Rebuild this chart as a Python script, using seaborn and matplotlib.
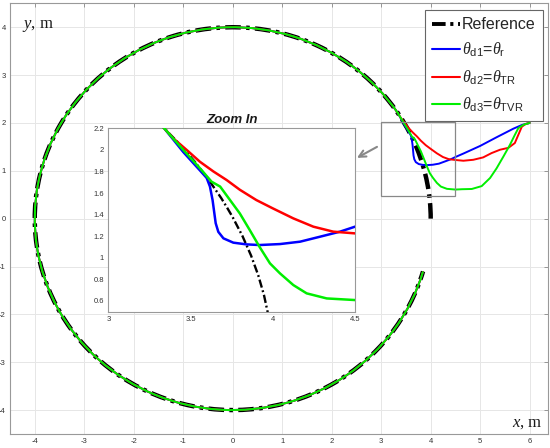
import matplotlib
matplotlib.use('Agg')
import numpy as np
import pandas as pd
import matplotlib.pyplot as plt
import seaborn as sns
from matplotlib.patches import Arc, Rectangle
from matplotlib.lines import Line2D

sns.set_theme(style='white')
plt.rcParams['font.family'] = ['Liberation Sans', 'DejaVu Sans']
plt.rcParams['mathtext.fontset'] = 'custom'
plt.rcParams['mathtext.rm'] = 'Liberation Sans'
plt.rcParams['mathtext.it'] = 'Liberation Serif:italic'

# ---------------- data ----------------
ref_radius = 4.0
ref_theta = (0.0, 344.0)      # reference circle, degrees (CCW)
track_theta = (33.4, 344.0)   # part where the tracks follow the circle

blue_x = [6.0, 5.85, 5.67, 5.33, 5.0, 4.66, 4.5, 4.409, 4.287, 4.166, 4.044, 3.92, 3.84, 3.76,
          3.70, 3.669, 3.653, 3.645, 3.634, 3.618, 3.598, 3.557, 3.456, 3.339]
blue_y = [2.0, 1.96, 1.88, 1.70, 1.52, 1.36, 1.288, 1.242, 1.195, 1.149, 1.127, 1.118, 1.124, 1.14,
          1.18, 1.24, 1.32, 1.41, 1.535, 1.66, 1.74, 1.81, 1.98, 2.202]

red_x = [6.0, 5.92, 5.84, 5.77, 5.70, 5.57, 5.40, 5.23, 5.06, 4.86, 4.66, 4.5, 4.368, 4.247,
         4.125, 4.0, 3.90, 3.80, 3.72, 3.639, 3.557, 3.476, 3.395, 3.339]
red_y = [2.0, 1.98, 1.92, 1.75, 1.58, 1.48, 1.44, 1.37, 1.28, 1.23, 1.21, 1.226, 1.242, 1.288,
         1.365, 1.458, 1.535, 1.63, 1.72, 1.80, 1.89, 2.0, 2.107, 2.202]

green_x = [6.0, 5.87, 5.77, 5.70, 5.60, 5.47, 5.33, 5.20, 5.03, 4.83, 4.63, 4.5, 4.328, 4.206,
           4.125, 4.044, 3.983, 3.92, 3.86, 3.80, 3.74, 3.68, 3.628, 3.557, 3.456, 3.339]
green_y = [2.0, 1.96, 1.89, 1.75, 1.54, 1.30, 1.05, 0.85, 0.68, 0.62, 0.615, 0.608, 0.623, 0.67,
           0.747, 0.855, 0.948, 1.10, 1.257, 1.41, 1.535, 1.66, 1.705, 1.83, 2.0, 2.202]

series_labels = ['Reference',
                 r'$\theta_{\mathrm{d1}}$=$\theta_{\mathrm{r}}$',
                 r'$\theta_{\mathrm{d2}}$=$\theta_{\mathrm{TR}}$',
                 r'$\theta_{\mathrm{d3}}$=$\theta_{\mathrm{TVR}}$']
colors = ['black', '#0000ff', '#ff0000', '#00ee00']

main_xticks = [-4, -3, -2, -1, 0, 1, 2, 3, 4, 5, 6]
main_yticks = [-4, -3, -2, -1, 0, 1, 2, 3, 4]
inset_xticks = [3, 3.5, 4, 4.5]
inset_yticks = [0.6, 0.8, 1, 1.2, 1.4, 1.6, 1.8, 2, 2.2]
inset_xlim = (3, 4.5)
inset_ylim = (0.5, 2.2)
zoom_box = (3.0, 0.48, 4.5, 2.02)

tracks = [(blue_x, blue_y), (red_x, red_y), (green_x, green_y)]

# ---------------- figure ----------------
fig = plt.figure(figsize=(5.5, 4.48), dpi=100)
W, H = 550, 448
ax = fig.add_axes([10 / W, (H - 434) / H, 538 / W, 430.7 / H])
ax.set_xlim(-4.5, 6.37)
ax.set_ylim(-4.5, 4.5)

ref_dash = (0, (3.5, 1.2, 0.8, 1.2))


def draw(a, lw_ref, lw_trk):
    a.add_patch(Arc((0, 0), 2 * ref_radius, 2 * ref_radius, theta1=ref_theta[0],
                    theta2=ref_theta[1], color=colors[0], lw=lw_ref, linestyle=ref_dash, zorder=2))
    for (tx, ty), c in zip(tracks, colors[1:]):
        df = pd.DataFrame({'x': tx, 'y': ty})
        sns.lineplot(data=df, x='x', y='y', sort=False, estimator=None, color=c, lw=lw_trk,
                     ax=a, zorder=3)
        a.add_patch(Arc((0, 0), 2 * ref_radius, 2 * ref_radius, theta1=track_theta[0],
                        theta2=track_theta[1], color=c, lw=lw_trk, zorder=3))


draw(ax, 3.2, 1.4)

ax.set_xticks(main_xticks)
ax.set_yticks(main_yticks)
ax.set_xticklabels([str(v) for v in main_xticks])
ax.set_yticklabels([str(v) for v in main_yticks])
ax.grid(True, color='#e6e6e6', lw=0.7)
ax.set_axisbelow(True)
ax.tick_params(direction='in', length=3, width=0.6, color='#888888', labelsize=5.5,
               labelcolor='#333333', top=True, right=True, pad=3)
for s in ax.spines.values():
    s.set_color('#999999')
    s.set_linewidth(0.8)
ax.set_xlabel('')
ax.set_ylabel('')

ax.text(-4.256, 3.977, '$y$, m', family='Liberation Serif', fontsize=12, ha='left',
        va='baseline', color='#1a1a1a')
ax.text(6.27, -4.35, '$x$, m', family='Liberation Serif', fontsize=12, ha='right',
        va='baseline', color='#1a1a1a')

# zoom rectangle + arrow
x0, y0, x1, y1 = zoom_box
ax.add_patch(Rectangle((x0, y0), x1 - x0, y1 - y0, fill=False, ec='#888888', lw=0.9, zorder=4))
ax.annotate('', xy=(2.51, 1.27), xytext=(2.915, 1.50),
            arrowprops=dict(arrowstyle='->', color='#888888', lw=1.5, shrinkA=0, shrinkB=0))

# legend
handles = [Line2D([], [], color=colors[0], lw=2.8, linestyle=ref_dash)] + \
          [Line2D([], [], color=c, lw=1.5) for c in colors[1:]]
leg = ax.legend(handles, series_labels, loc='upper right', bbox_to_anchor=(0.9907, 0.9844),
                borderaxespad=0, fontsize=11.5, frameon=True, fancybox=False, framealpha=1,
                edgecolor='#666666', handlelength=1.75, handletextpad=0.12, labelspacing=0.55,
                borderpad=0.45)
leg.get_frame().set_linewidth(0.8)

# inset
axi = fig.add_axes([108.3 / W, (H - 311.7) / H, 246.7 / W, 183.4 / H])
axi.set_facecolor('white')
draw(axi, 1.7, 1.8)
axi.set_xlim(*inset_xlim)
axi.set_ylim(*inset_ylim)
axi.set_xticks(inset_xticks)
axi.set_yticks(inset_yticks)
axi.set_xticklabels([f'{v:g}' for v in inset_xticks])
axi.set_yticklabels([f'{v:g}' for v in inset_yticks])
axi.tick_params(direction='in', length=2.5, width=0.6, color='#888888', labelsize=5.5,
                labelcolor='#333333', pad=3)
axi.grid(False)
for s in axi.spines.values():
    s.set_color('#999999')
    s.set_linewidth(0.8)
axi.set_xlabel('')
axi.set_ylabel('')
axi.set_title('Zoom In', fontsize=9.5, fontweight='bold', fontstyle='italic', pad=4,
              color='#1a1a1a')

fig.savefig('out.png', dpi=100)
